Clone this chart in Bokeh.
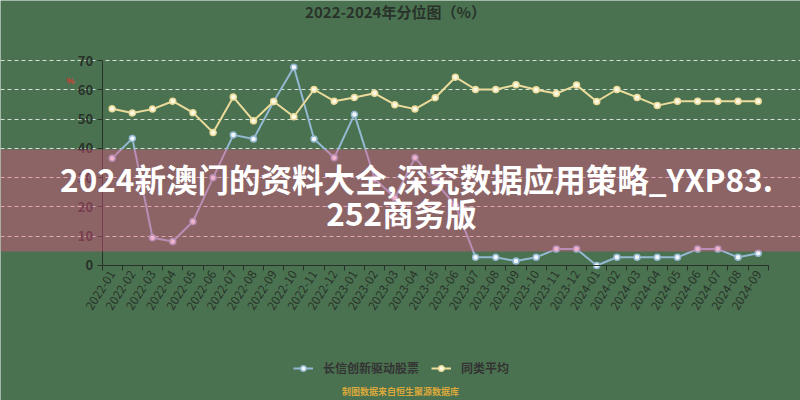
from bokeh.plotting import figure
from bokeh.models import (Range1d, LinearAxis, FixedTicker, BoxAnnotation, Grid,
                          Label, Legend, LegendItem, ColumnDataSource, CustomJSTickFormatter)
from bokeh.embed import file_html
from bokeh.resources import INLINE

months = ["2022-01", "2022-02", "2022-03", "2022-04", "2022-05", "2022-06", "2022-07",
          "2022-08", "2022-09", "2022-10", "2022-11", "2022-12", "2023-01", "2023-02",
          "2023-03", "2023-04", "2023-05", "2023-06", "2023-07", "2023-08", "2023-09",
          "2023-10", "2023-11", "2023-12", "2024-01", "2024-02", "2024-03", "2024-04",
          "2024-05", "2024-06", "2024-07", "2024-08", "2024-09"]
fund = [36.6, 43.4, 9.5, 8.2, 15.0, 30.0, 44.6, 43.2, 56.0, 67.7, 43.2, 36.8, 51.6, 29.6,
        23.1, 36.8, 28.6, 20.5, 2.8, 2.8, 1.5, 2.8, 5.6, 5.6, 0.0, 2.8, 2.8, 2.8, 2.8,
        5.6, 5.6, 2.8, 4.2]
avg = [53.5, 52.1, 53.4, 56.1, 52.2, 45.4, 57.5, 49.4, 56.0, 50.8, 60.1, 56.1, 57.4, 58.8,
       54.9, 53.4, 57.3, 64.3, 60.1, 60.1, 61.7, 60.0, 58.7, 61.6, 56.0, 60.1, 57.4, 54.6,
       56.1, 56.1, 56.1, 56.1, 56.1]
y_ticks = [0, 10, 20, 30, 40, 50, 60, 70]
series_names = ["长信创新驱动股票", "同类平均"]
title_text = "2022-2024年分位图（%）"
banner_lines = ["2024新澳门的资料大全,深究数据应用策略_YXP83.", "252商务版"]
footer_text = "制图数据来自恒生聚源数据库"

BG = "#4b7250"
DARK = "#28322a"
BLUE = "#93b8d2"
YELLOW = "#ecdc9c"
CJK = "Noto Sans CJK SC"

n = len(months)
centers = [i + 0.5 for i in range(n)]          # category slot centres
bounds_ticks = list(range(n + 1))              # category slot boundaries

src = ColumnDataSource(dict(x=centers, month=months, fund=fund, avg=avg))

# the frame fills the whole canvas; axes sit at fixed data locations inside it
p = figure(width=800, height=400, x_range=Range1d(-5.033, 34.595),
           y_range=Range1d(-46.10, 90.49), output_backend="svg", toolbar_location=None,
           x_axis_type=None, y_axis_type=None, min_border=0)
p.background_fill_color = BG
p.border_fill_color = BG
p.outline_line_alpha = 0
p.xgrid.visible = False
p.ygrid.visible = False

# y axis
yax = LinearAxis(ticker=FixedTicker(ticks=y_ticks))
yax.bounds = (0, 70)
yax.fixed_location = 0
yax.axis_line_color = DARK
yax.major_tick_line_color = DARK
yax.major_tick_out = 5
yax.major_tick_in = 0
yax.minor_tick_line_alpha = 0
yax.major_label_text_font = CJK
yax.major_label_text_font_size = "13px"
yax.major_label_text_font_style = "bold"
yax.major_label_text_color = DARK
yax.major_label_standoff = 4
p.add_layout(yax, "left")

# dashed horizontal grid, limited to the category span
grid = Grid(dimension=1, ticker=FixedTicker(ticks=y_ticks[1:]), bounds=(0, n))
grid.grid_line_color = "#e6ece6"
grid.grid_line_dash = "4 3"
grid.grid_line_width = 1
grid.grid_line_alpha = 0.9
p.add_layout(grid)

# category label axis (labels at slot centres)
xax = LinearAxis(ticker=FixedTicker(ticks=centers),
                 formatter=CustomJSTickFormatter(args=dict(labels=months),
                                                 code="return labels[Math.floor(tick)] || '';"))
xax.bounds = (0, n)
xax.fixed_location = 0
xax.axis_line_color = DARK
xax.major_tick_out = 0
xax.major_tick_in = 0
xax.minor_tick_line_alpha = 0
xax.major_label_orientation = 1.0
xax.major_label_text_font = CJK
xax.major_label_text_font_size = "12px"
xax.major_label_text_color = DARK
xax.major_label_standoff = 6
p.add_layout(xax, "below")

# boundary ticks
bax = LinearAxis(ticker=FixedTicker(ticks=bounds_ticks))
bax.bounds = (0, n)
bax.fixed_location = 0
bax.axis_line_color = DARK
bax.major_tick_line_color = DARK
bax.major_tick_out = 5
bax.major_tick_in = 0
bax.minor_tick_line_alpha = 0
bax.major_label_text_alpha = 0
bax.major_label_text_font_size = "1px"
p.add_layout(bax, "below")

l1 = p.line("x", "fund", source=src, line_color=BLUE, line_width=2)
s1 = p.scatter("x", "fund", source=src, size=6, fill_color="#f3f7fa",
               line_color=BLUE, line_width=1.5)
l2 = p.line("x", "avg", source=src, line_color=YELLOW, line_width=2)
s2 = p.scatter("x", "avg", source=src, size=6, fill_color="#fdf8e3",
               line_color=YELLOW, line_width=1.5)

legend = Legend(items=[LegendItem(label=series_names[0], renderers=[l1, s1]),
                       LegendItem(label=series_names[1], renderers=[l2, s2])],
                orientation="horizontal", location=(293, 24),
                glyph_width=20, glyph_height=14, label_height=14, label_standoff=10,
                spacing=12, padding=0, margin=0,
                border_line_alpha=0, background_fill_alpha=0,
                label_text_font=CJK, label_text_font_size="12px",
                label_text_font_style="bold", label_text_color="#333333")
p.add_layout(legend)

# title
p.add_layout(Label(x=395, y=11, x_units="canvas", y_units="canvas", text=title_text,
                   text_align="center", text_baseline="middle", text_font=CJK,
                   text_font_size="15px", text_font_style="bold", text_color=DARK))
# axis unit mark
p.add_layout(Label(x=70, y=80, x_units="canvas", y_units="canvas", text="%",
                   text_align="center", text_baseline="middle", text_font_size="9px",
                   text_font_style="bold", text_color="#d23a35"))

# banner overlay
p.add_layout(BoxAnnotation(left=0, right=800, top=149, bottom=251,
                           left_units="canvas", right_units="canvas",
                           top_units="canvas", bottom_units="canvas",
                           fill_color="#f04f88", fill_alpha=0.4, line_alpha=0))
p.add_layout(Label(x=416, y=177.5, x_units="canvas", y_units="canvas", text=banner_lines[0],
                   text_align="center", text_baseline="middle", text_font=CJK,
                   text_font_size="31.5px", text_font_style="bold", text_color="white"))
p.add_layout(Label(x=401, y=211, x_units="canvas", y_units="canvas", text=banner_lines[1],
                   text_align="center", text_baseline="middle", text_font=CJK,
                   text_font_size="31.5px", text_font_style="bold", text_color="white"))

# footer
p.add_layout(Label(x=400, y=391, x_units="canvas", y_units="canvas", text=footer_text,
                   text_align="center", text_baseline="middle", text_font=CJK,
                   text_font_size="9px", text_font_style="bold", text_color="#d9a93c"))

open("out.html", "w").write(file_html(p, INLINE))
